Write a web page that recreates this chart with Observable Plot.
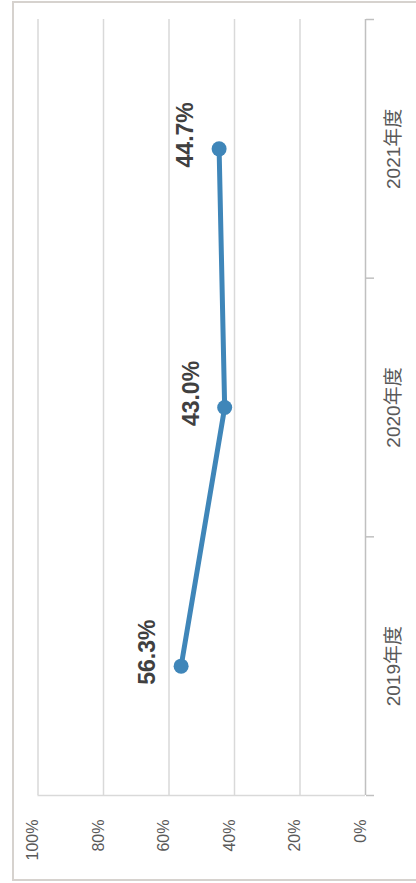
<!DOCTYPE html>
<html><head><meta charset="utf-8">
<script src="https://cdn.jsdelivr.net/npm/d3@7"></script>
<script src="https://cdn.jsdelivr.net/npm/@observablehq/plot@0.6"></script>
<style>
html,body{margin:0;padding:0;background:#fff;overflow:hidden;}
#wrap{position:relative;width:416px;height:883px;overflow:hidden;}
#wrap svg{position:absolute;left:0;top:0;}
#border{position:absolute;left:12px;top:1px;width:430px;height:880px;border:2px solid #d6d2ce;box-sizing:border-box;pointer-events:none;}
</style></head><body><div id="wrap"><div id="border"></div></div>
<script>
const categories = ["2019年度","2020年度","2021年度"];
const values = [0.563, 0.430, 0.447];
const valueTicks = [0, 0.2, 0.4, 0.6, 0.8, 1];

const rows = categories.map((c, i) => ({cat: c, pos: i + 0.5, v: values[i]}));
const bounds = d3.range(categories.length + 1);
const pct0 = d => Math.round(d * 100) + "%";
const pct1 = d => (d * 100).toFixed(1) + "%";
const font = "'Liberation Sans', 'Noto Sans CJK JP', sans-serif";
const blue = "#3f86b9";

const chart = Plot.plot({
  width: 416, height: 883,
  marginTop: 19, marginBottom: 88, marginLeft: 37.5, marginRight: 51,
  style: {fontFamily: font, background: "transparent", overflow: "visible"},
  x: {domain: [1, 0], axis: null},
  y: {domain: [0, categories.length], axis: null},
  marks: [
    Plot.ruleX(valueTicks.filter(d => d > 0), {stroke: "#d9d9d9", strokeWidth: 1.5}),
    Plot.ruleY([0], {stroke: "#d9d9d9", strokeWidth: 1.5}),
    Plot.ruleX([0], {stroke: "#c0c0c0", strokeWidth: 1.5}),
    Plot.axisY(bounds, {anchor: "right", label: null, tickSize: 8, tickFormat: () => "", stroke: "#c0c0c0", strokeWidth: 1.5}),
    Plot.text(valueTicks, {x: d => d, frameAnchor: "bottom", text: pct0, rotate: -90, textAnchor: "end", dy: 24, fontSize: 16, fill: "#595959"}),
    Plot.text(rows, {y: "pos", text: "cat", frameAnchor: "right", rotate: -90, textAnchor: "middle", dx: 28, fontSize: 19, fill: "#595959"}),
    Plot.line(rows, {x: "v", y: "pos", stroke: blue, strokeWidth: 5}),
    Plot.dot(rows, {x: "v", y: "pos", r: 7.5, fill: blue}),
    Plot.text(rows, {x: "v", y: "pos", text: d => pct1(d.v), rotate: -90, dx: -33, dy: -14, fontSize: 23, fontWeight: "bold", fill: "#404040"})
  ]
});
document.getElementById("wrap").appendChild(chart);
</script>
</body></html>
